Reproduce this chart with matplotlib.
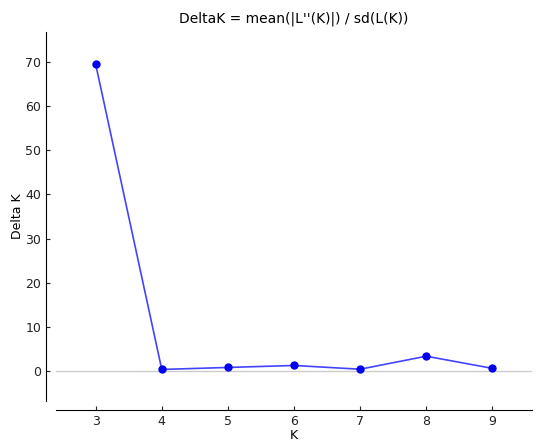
import matplotlib
matplotlib.use("Agg")
import matplotlib.pyplot as plt

# Evanno delta K values
k_values = [3, 4, 5, 6, 7, 8, 9]
delta_k = [69.5, 0.35, 0.8, 1.25, 0.4, 3.35, 0.6]

fig = plt.figure(figsize=(5.5, 4.43), dpi=100)
ax = fig.add_axes([0.1018, 0.0948, 0.8655, 0.833])

ax.axhline(0, color="#cccccc", lw=1, zorder=1)
ax.plot(k_values, delta_k, color="#4444ff", lw=1.2, zorder=2)
ax.plot(k_values, delta_k, "o", color="#0000ee", ms=5, zorder=3)

ax.set_xlim(2.4, 9.6)
ax.set_ylim(-6.8, 76.8)
ax.set_xticks(k_values)
ax.set_yticks(range(0, 80, 10))

for side in ["top", "right"]:
    ax.spines[side].set_visible(False)
ax.spines["left"].set_position(("outward", 7.2))
ax.spines["bottom"].set_position(("outward", 6.5))
ax.tick_params(direction="in", length=3, labelsize=9, colors="#222222")

ax.set_xlabel("K", fontsize=9, labelpad=1)
ax.set_ylabel("Delta K", fontsize=9, labelpad=0.5)
ax.set_title("DeltaK = mean(|L''(K)|) / sd(L(K))", fontsize=10, pad=7)

fig.savefig("out.png", dpi=100)
